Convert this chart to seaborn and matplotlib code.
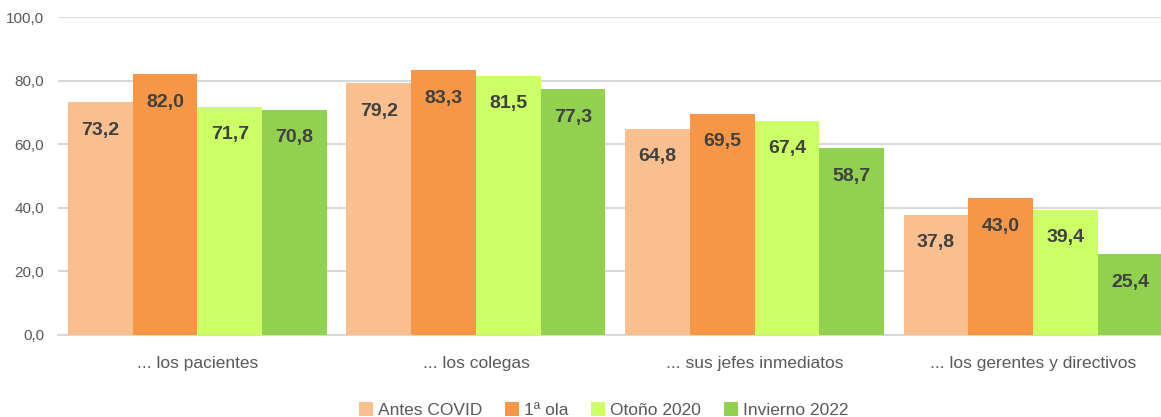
import pandas as pd
import matplotlib.pyplot as plt
import seaborn as sns
from matplotlib.patches import Patch

categories = ["... los pacientes", "... los colegas", "... sus jefes inmediatos", "... los gerentes y directivos"]
series = ["Antes COVID", "1ª ola", "Otoño 2020", "Invierno 2022"]
antes_covid = [73.2, 79.2, 64.8, 37.8]
primera_ola = [82.0, 83.3, 69.5, 43.0]
otono_2020 = [71.7, 81.5, 67.4, 39.4]
invierno_2022 = [70.8, 77.3, 58.7, 25.4]
colors = ["#F9BF8F", "#F79646", "#CCFF66", "#92D050"]

rows = []
for name, vals in zip(series, [antes_covid, primera_ola, otono_2020, invierno_2022]):
    for cat, v in zip(categories, vals):
        rows.append({"categoria": cat, "serie": name, "valor": v})
df = pd.DataFrame(rows)

sns.set_style("white")
plt.rcParams["font.family"] = ["Liberation Sans Narrow", "Liberation Sans", "DejaVu Sans"]

fig = plt.figure(figsize=(11.61, 4.17), dpi=100)
ax = fig.add_axes([0.05, 0.197, 0.95, 0.762])

sns.barplot(data=df, x="categoria", y="valor", hue="serie", palette=colors, saturation=1,
            width=0.93, ax=ax, legend=False, edgecolor="none", linewidth=0, zorder=3)

# value labels inside the top of each bar
for container in ax.containers:
    labels = [f"{v:.1f}".replace(".", ",") for v in container.datavalues]
    texts = ax.bar_label(container, labels=labels, label_type="edge", padding=-14,
                         fontsize=14, fontweight="bold", color="#404040")
    for t in texts:
        t.set_verticalalignment("top")

ax.set_ylim(0, 100)
ax.set_xlim(-0.5, 3.459)
ax.set_yticks(range(0, 101, 20))
ax.set_yticklabels([f"{v:.1f}".replace(".", ",") for v in range(0, 101, 20)])
ax.yaxis.grid(True, color="#D9D9D9", linewidth=1.5, zorder=0)
ax.set_axisbelow(True)
ax.set_xlabel("")
ax.set_ylabel("")
for s in ["top", "right", "left"]:
    ax.spines[s].set_visible(False)
ax.spines["bottom"].set_color("#D9D9D9")
ax.spines["bottom"].set_linewidth(1.5)
ax.tick_params(axis="y", length=0, labelsize=11, labelcolor="#595959", pad=10)
ax.tick_params(axis="x", length=0, labelsize=12.5, labelcolor="#595959", pad=15)

handles = [Patch(facecolor=c, edgecolor="none") for c in colors]
fig.legend(handles, series, loc="lower center", bbox_to_anchor=(0.52, -0.04), ncol=4,
           frameon=False, fontsize=12.5, handlelength=0.8, handleheight=0.8,
           handletextpad=0.3, columnspacing=1.3, labelcolor="#595959")

fig.savefig("out.png", dpi=100)
